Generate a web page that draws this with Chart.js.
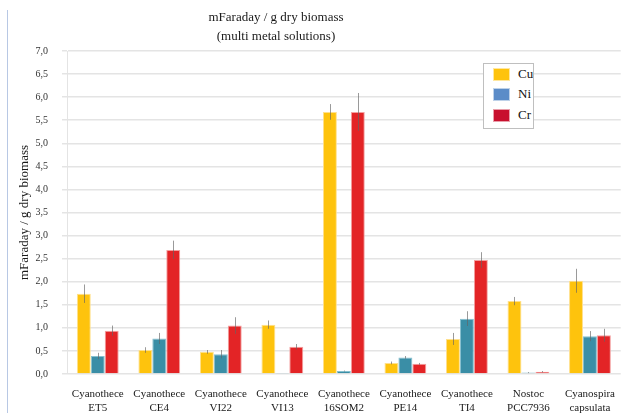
<!DOCTYPE html>
<html>
<head>
<meta charset="utf-8">
<script src="https://cdn.jsdelivr.net/npm/chart.js@4.4.1/dist/chart.umd.min.js"></script>
<style>
  html, body { margin: 0; padding: 0; background: #fff; }
  #wrap { position: relative; width: 621px; height: 413px; overflow: hidden; }
  #edge { position: absolute; left: 7px; top: 10px; width: 1px; height: 403px; background: #b8c8e4; }
  #legend { position: absolute; left: 483px; top: 63px; width: 49px; height: 64px; border: 1px solid #bfbfbf; background: #fff; overflow: hidden; font-family: "Liberation Serif", "DejaVu Serif", serif; font-size: 13px; color: #111; }
  .item { position: absolute; left: 9px; height: 14px; white-space: nowrap; }
  .sw { position: absolute; left: 0; top: 0; width: 17px; height: 13px; border: 1px solid rgba(255,255,255,0.6); box-sizing: border-box; }
  .lab { position: absolute; left: 25px; top: -2px; }
</style>
</head>
<body>
<div id="wrap">
  <canvas id="c" width="621" height="413"></canvas>
  <div id="edge"></div>
  <div id="legend"></div>
</div>
<script>
const categories = [
  ["Cyanothece", "ET5"], ["Cyanothece", "CE4"], ["Cyanothece", "VI22"],
  ["Cyanothece", "VI13"], ["Cyanothece", "16SOM2"], ["Cyanothece", "PE14"],
  ["Cyanothece", "TI4"], ["Nostoc", "PCC7936"], ["Cyanospira", "capsulata"]
];
const seriesNames = ["Cu", "Ni", "Cr"];
const cuValues = [1.74, 0.52, 0.48, 1.07, 5.68, 0.24, 0.76, 1.58, 2.02];
const niValues = [0.39, 0.77, 0.43, 0.01, 0.065, 0.36, 1.20, 0.03, 0.82];
const crValues = [0.94, 2.69, 1.05, 0.59, 5.68, 0.22, 2.47, 0.05, 0.84];
const cuErrors = [0.20, 0.06, 0.04, 0.09, 0.17, 0.03, 0.13, 0.09, 0.26];
const niErrors = [0.07, 0.12, 0.09, 0.00, 0.01, 0.03, 0.16, 0.01, 0.11];
const crErrors = [0.11, 0.20, 0.18, 0.06, 0.41, 0.02, 0.17, 0.015, 0.14];
const yTickValues = [0, 0.5, 1, 1.5, 2, 2.5, 3, 3.5, 4, 4.5, 5, 5.5, 6, 6.5, 7];
const titleLines = ["mFaraday / g dry biomass", "(multi metal solutions)"];
const yAxisTitle = "mFaraday / g dry biomass";

const barColors = ["#fec30d", "#3a8ea6", "#e32426"];
const barBorders = ["#ffe08c", "#86c0cf", "#f4a0a0"];
const legendColors = ["#fec30d", "#5b8cc8", "#c8102e"];
const serif = '"Liberation Serif", "DejaVu Serif", serif';

const errorsBySeries = [cuErrors, niErrors, crErrors];

const errorBarPlugin = {
  id: 'errorBars',
  afterDatasetsDraw(chart) {
    const ctx = chart.ctx;
    const yScale = chart.scales.y;
    ctx.save();
    ctx.strokeStyle = 'rgba(100,100,100,0.65)';
    ctx.lineWidth = 1;
    chart.data.datasets.forEach((ds, i) => {
      const meta = chart.getDatasetMeta(i);
      const errs = errorsBySeries[i];
      meta.data.forEach((el, j) => {
        const v = ds.data[j], e = errs[j];
        if (!e) return;
        const x = Math.round(el.x) + 0.5;
        ctx.beginPath();
        ctx.moveTo(x, yScale.getPixelForValue(v - e));
        ctx.lineTo(x, yScale.getPixelForValue(v + e));
        ctx.stroke();
      });
    });
    ctx.restore();
  }
};

const titlePlugin = {
  id: 'twoLineTitle',
  afterDraw(chart) {
    const ctx = chart.ctx;
    ctx.save();
    ctx.fillStyle = '#1a1a1a';
    ctx.font = '13px ' + serif;
    ctx.textAlign = 'center';
    ctx.textBaseline = 'middle';
    ctx.fillText(titleLines[0], 276, 18);
    ctx.fillText(titleLines[1], 276, 37);
    ctx.restore();
  }
};

const chart = new Chart(document.getElementById('c'), {
  type: 'bar',
  data: {
    labels: categories,
    datasets: [
      { label: seriesNames[0], data: cuValues, backgroundColor: barColors[0], borderColor: barBorders[0], borderWidth: 1 },
      { label: seriesNames[1], data: niValues, backgroundColor: barColors[1], borderColor: barBorders[1], borderWidth: 1 },
      { label: seriesNames[2], data: crValues, backgroundColor: barColors[2], borderColor: barBorders[2], borderWidth: 1 }
    ]
  },
  options: {
    responsive: false,
    devicePixelRatio: 1,
    animation: false,
    layout: { padding: { top: 51, left: 15, right: 0, bottom: 0 } },
    plugins: {
      legend: { display: false },
      tooltip: { enabled: false },
      title: { display: false }
    },
    datasets: { bar: { categoryPercentage: 0.68, barPercentage: 1.0 } },
    scales: {
      x: {
        grid: { display: false },
        border: { display: false },
        ticks: { color: '#1a1a1a', font: { family: serif, size: 11 }, maxRotation: 0, autoSkip: false, padding: 6 },
        afterFit(scale) { scale.height = 39; }
      },
      y: {
        min: 0, max: 7,
        afterBuildTicks(scale) { scale.ticks = yTickValues.map(v => ({ value: v })); },
        ticks: {
          color: '#333', font: { family: serif, size: 10 }, padding: 14,
          callback: v => Number(v).toFixed(1).replace('.', ',')
        },
        grid: { color: '#e4e4e4', lineWidth: 1.5, tickLength: 5 },
        border: { display: true, color: '#e4e4e4', width: 1 },
        title: { display: true, text: yAxisTitle, color: '#1a1a1a', font: { family: serif, size: 13 }, padding: { top: 2, bottom: 2 } },
        afterFit(scale) { scale.width = 52; }
      }
    }
  },
  plugins: [errorBarPlugin, titlePlugin]
});

// legend built from the chart's datasets
const legendEl = document.getElementById('legend');
const itemTops = [4, 24, 45];
chart.data.datasets.forEach((ds, i) => {
  const item = document.createElement('div');
  item.className = 'item';
  item.style.top = itemTops[i] + 'px';
  const sw = document.createElement('div');
  sw.className = 'sw';
  sw.style.background = legendColors[i];
  const lab = document.createElement('span');
  lab.className = 'lab';
  lab.textContent = ds.label;
  item.appendChild(sw);
  item.appendChild(lab);
  legendEl.appendChild(item);
});
</script>
</body>
</html>
